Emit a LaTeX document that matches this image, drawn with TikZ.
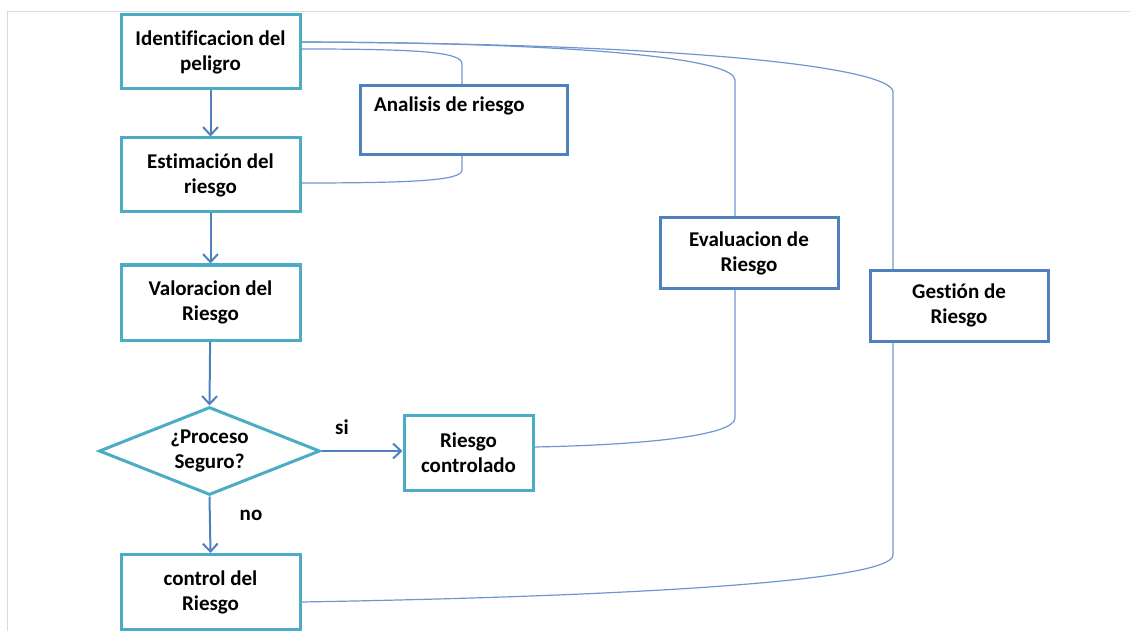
\documentclass[tikz,border=0pt]{standalone}
\usepackage{fontspec}
\setmainfont{Carlito}[Ligatures=CommonOff]
\usetikzlibrary{shapes.geometric,arrows.meta,backgrounds,calc}
\definecolor{tealc}{HTML}{4BACC6}
\definecolor{bluec}{HTML}{4F81BD}
\definecolor{linec}{HTML}{7096CF}
\definecolor{framec}{HTML}{DADADA}
\tikzset{
  txt/.style={font=\fontsize{21}{25}\selectfont\bfseries, align=center, text=black},
  tealbox/.style={txt, draw=tealc, line width=3pt, fill=white, inner sep=0pt},
  bluebox/.style={txt, draw=bluec, line width=3pt, fill=white, inner sep=0pt},
  arr/.style={draw=bluec, line width=2pt, -{Straight Barb[length=8pt,width=15pt,line width=2pt]}},
  brace/.style={draw=linec, line width=1.2pt},
}
\begin{document}
\begin{tikzpicture}[x=1pt,y=-1pt]
\useasboundingbox (0,0) rectangle (1130,631);
\draw[framec, line width=1pt] (1130,12) -- (7,12) -- (7,631);

\node[tealbox, minimum width=179pt, minimum height=74pt] (ident) at (210.5,52) {Identificacion del\\peligro};
\node[tealbox, minimum width=179pt, minimum height=74pt] (estim) at (210.5,175) {Estimación del\\riesgo};
\node[tealbox, minimum width=179pt, minimum height=75pt] (valor) at (210.5,302.5) {Valoracion del\\Riesgo};
\node[tealbox, shape=diamond, aspect=2.5, minimum width=221pt, minimum height=88pt] (dia) at (209.5,451) {¿Proceso\\Seguro?};
\node[tealbox, minimum width=129pt, minimum height=75pt] (ctrl) at (468.5,452.5) {Riesgo\\controlado};
\node[tealbox, minimum width=179pt, minimum height=75pt] (contr) at (210.5,592) {control del\\Riesgo};
\node[bluebox, minimum width=207pt, minimum height=69pt] (anal) at (463.5,120.5) {};
\node[txt, anchor=west, inner sep=0pt] (analtxt) at (374,106) {Analisis de riesgo};
\node[bluebox, minimum width=178pt, minimum height=70pt] (eval) at (749,253) {Evaluacion de\\Riesgo};
\node[bluebox, minimum width=178pt, minimum height=71pt] (gest) at (959,305.5) {Gestión de\\Riesgo};

\node[txt, inner sep=0pt] (si) at (342,427) {si};
\node[txt, inner sep=0pt] (no) at (251,515) {no};

\draw[arr] (ident) -- (estim);
\draw[arr] (estim) -- (valor);
\draw[arr] (valor) -- (dia.north);
\draw[arr] (dia.east) -- (dia.east -| ctrl.west);
\draw[arr] (dia.south) -- (contr.north);

\begin{scope}[on background layer]
\draw[brace] ($(ident.east)+(0,-3)$) .. controls (420,49) and (462,52) .. (462,64)
  -- (462,170) .. controls (462,180) and (420,183) .. (estim.east |- 0,183);
\draw[brace] ($(ident.east)+(0,-10)$) .. controls (600,43) and (735,60) .. (735,80)
  -- (735,418) .. controls (735,436) and (640,445) .. (ctrl.east |- 0,447);
\draw[brace] ($(ident.east)+(0,-10)$) .. controls (720,44) and (893,70) .. (893,92)
  -- (893,555) .. controls (893,580) and (650,596) .. (contr.east |- 0,602);
\end{scope}
\end{tikzpicture}
\end{document}
